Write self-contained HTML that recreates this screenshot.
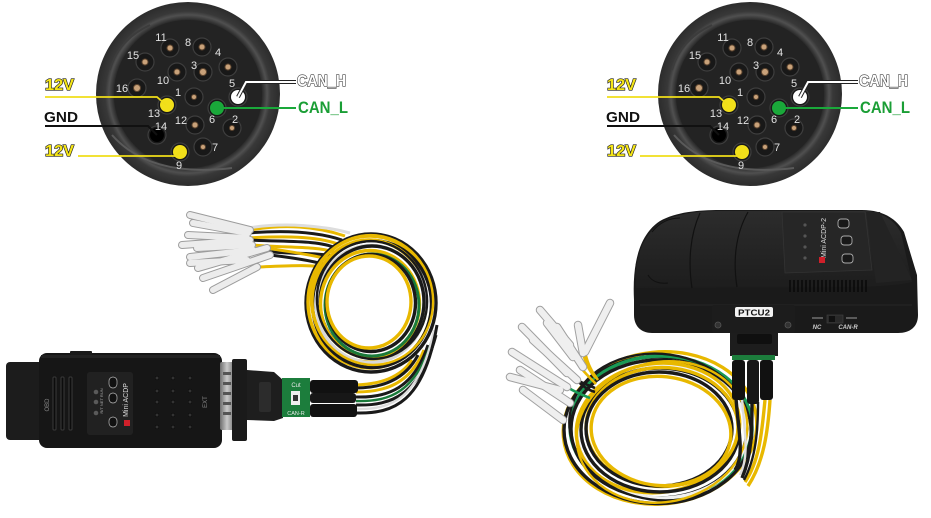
<!DOCTYPE html>
<html><head><meta charset="utf-8">
<style>
html,body{margin:0;padding:0;background:#fff;}
svg{display:block;}
text{font-family:"Liberation Sans",sans-serif;}
</style></head>
<body>
<svg width="931" height="518" viewBox="0 0 931 518" xmlns="http://www.w3.org/2000/svg">
<defs>
<radialGradient id="rim" cx="0.5" cy="0.5" r="0.5">
<stop offset="0.80" stop-color="#262626"/>
<stop offset="0.86" stop-color="#505050"/>
<stop offset="0.90" stop-color="#383838"/>
<stop offset="1" stop-color="#2c2c2c"/>
</radialGradient>
<linearGradient id="metal" x1="0" x2="1" y1="0" y2="0">
<stop offset="0" stop-color="#6d6d6d"/><stop offset="0.5" stop-color="#c9c9c9"/><stop offset="1" stop-color="#7a7a7a"/>
</linearGradient>
<linearGradient id="topface" x1="0" x2="0" y1="0" y2="1">
<stop offset="0" stop-color="#2c2c2c"/><stop offset="1" stop-color="#1d1d1d"/>
</linearGradient>
</defs>
<rect width="931" height="518" fill="#fff"/>

<!-- ============ LEFT CONNECTOR ============ -->
<g>
<circle cx="188" cy="94" r="92" fill="url(#rim)"/>
<circle cx="188" cy="94" r="74" fill="#232323"/>
<path d="M112,135 Q150,178 232,168" fill="none" stroke="#5a5a5a" stroke-width="2"/>
<path d="M110,70 Q118,40 150,25" fill="none" stroke="#3c3c3c" stroke-width="2"/>
<g fill="#181818" stroke="#3e3e3e" stroke-width="1.2">
<circle cx="170" cy="48" r="9"/><circle cx="202" cy="47" r="9"/><circle cx="228" cy="67" r="9"/>
<circle cx="145" cy="62" r="9"/><circle cx="177" cy="72" r="9"/><circle cx="203" cy="72" r="9"/>
<circle cx="137" cy="88" r="9"/><circle cx="194" cy="97" r="9"/><circle cx="195" cy="125" r="9"/>
<circle cx="232" cy="128" r="9"/><circle cx="203" cy="147" r="9"/>
<circle cx="238" cy="97" r="9"/><circle cx="167" cy="105" r="9"/><circle cx="217" cy="108" r="9"/>
<circle cx="157" cy="135" r="9"/><circle cx="180" cy="152" r="9"/>
</g>
<g fill="#c9a27a" stroke="#5e4630" stroke-width="1">
<circle cx="170" cy="48" r="3"/><circle cx="202" cy="47" r="3"/><circle cx="228" cy="67" r="3"/>
<circle cx="145" cy="62" r="3"/><circle cx="177" cy="72" r="3"/><circle cx="203" cy="72" r="3.5"/>
<circle cx="137" cy="88" r="3.5"/><circle cx="194" cy="97" r="2.5"/><circle cx="195" cy="125" r="3"/>
<circle cx="232" cy="128" r="2.5"/><circle cx="203" cy="147" r="2.5"/>
</g>
<circle cx="238" cy="97" r="7" fill="#ffffff"/>
<circle cx="167" cy="105" r="7" fill="#f2e01a"/>
<circle cx="217" cy="108" r="7" fill="#1aa83a"/>
<circle cx="157" cy="135" r="7" fill="#000"/>
<circle cx="180" cy="152" r="7" fill="#f2e01a"/>
<g fill="#e2e2e2" font-size="11" text-anchor="middle">
<text x="161" y="41">11</text><text x="188" y="46">8</text><text x="218" y="56">4</text>
<text x="133" y="59">15</text><text x="194" y="69">3</text><text x="163" y="84">10</text>
<text x="122" y="92">16</text><text x="178" y="96">1</text><text x="232" y="87">5</text>
<text x="154" y="117">13</text><text x="212" y="123">6</text><text x="181" y="124">12</text>
<text x="235" y="123">2</text><text x="161" y="130">14</text><text x="215" y="151">7</text>
<text x="179" y="169">9</text>
</g>
<polyline points="45,97 157,97 166,105" fill="none" stroke="#f0de1a" stroke-width="1.8"/>
<polyline points="45,126 148,126 157,135" fill="none" stroke="#111" stroke-width="2"/>
<polyline points="78,156 176,156 180,152" fill="none" stroke="#f0de1a" stroke-width="1.8"/>
<polyline points="238,97 246,82 296,82" fill="none" stroke="#222" stroke-width="4"/>
<polyline points="238,97 246,82 296,82" fill="none" stroke="#fff" stroke-width="2"/>
<line x1="217" y1="108" x2="296" y2="108" stroke="#1aa83a" stroke-width="2"/>
<g font-weight="bold">
<text x="45" y="90" font-size="16" fill="#f5e516" stroke="#222" stroke-width="1.3" paint-order="stroke" textLength="29" lengthAdjust="spacingAndGlyphs">12V</text>
<text x="44" y="122" font-size="15" fill="#111" textLength="34" lengthAdjust="spacingAndGlyphs">GND</text>
<text x="45" y="156" font-size="16" fill="#f5e516" stroke="#222" stroke-width="1.3" paint-order="stroke" textLength="29" lengthAdjust="spacingAndGlyphs">12V</text>
<text x="297" y="86" font-size="16" fill="#fff" stroke="#444" stroke-width="1.3" paint-order="stroke" textLength="49" lengthAdjust="spacingAndGlyphs">CAN_H</text>
<text x="298" y="113" font-size="17" fill="#1a9e35" textLength="50" lengthAdjust="spacingAndGlyphs">CAN_L</text>
</g>
</g>

<!-- ============ RIGHT CONNECTOR ============ -->
<g transform="translate(562,0)">
<circle cx="188" cy="94" r="92" fill="url(#rim)"/>
<circle cx="188" cy="94" r="74" fill="#232323"/>
<path d="M112,135 Q150,178 232,168" fill="none" stroke="#5a5a5a" stroke-width="2"/>
<path d="M110,70 Q118,40 150,25" fill="none" stroke="#3c3c3c" stroke-width="2"/>
<g fill="#181818" stroke="#3e3e3e" stroke-width="1.2">
<circle cx="170" cy="48" r="9"/><circle cx="202" cy="47" r="9"/><circle cx="228" cy="67" r="9"/>
<circle cx="145" cy="62" r="9"/><circle cx="177" cy="72" r="9"/><circle cx="203" cy="72" r="9"/>
<circle cx="137" cy="88" r="9"/><circle cx="194" cy="97" r="9"/><circle cx="195" cy="125" r="9"/>
<circle cx="232" cy="128" r="9"/><circle cx="203" cy="147" r="9"/>
<circle cx="238" cy="97" r="9"/><circle cx="167" cy="105" r="9"/><circle cx="217" cy="108" r="9"/>
<circle cx="157" cy="135" r="9"/><circle cx="180" cy="152" r="9"/>
</g>
<g fill="#c9a27a" stroke="#5e4630" stroke-width="1">
<circle cx="170" cy="48" r="3"/><circle cx="202" cy="47" r="3"/><circle cx="228" cy="67" r="3"/>
<circle cx="145" cy="62" r="3"/><circle cx="177" cy="72" r="3"/><circle cx="203" cy="72" r="3.5"/>
<circle cx="137" cy="88" r="3.5"/><circle cx="194" cy="97" r="2.5"/><circle cx="195" cy="125" r="3"/>
<circle cx="232" cy="128" r="2.5"/><circle cx="203" cy="147" r="2.5"/>
</g>
<circle cx="238" cy="97" r="7" fill="#ffffff"/>
<circle cx="167" cy="105" r="7" fill="#f2e01a"/>
<circle cx="217" cy="108" r="7" fill="#1aa83a"/>
<circle cx="157" cy="135" r="7" fill="#000"/>
<circle cx="180" cy="152" r="7" fill="#f2e01a"/>
<g fill="#e2e2e2" font-size="11" text-anchor="middle">
<text x="161" y="41">11</text><text x="188" y="46">8</text><text x="218" y="56">4</text>
<text x="133" y="59">15</text><text x="194" y="69">3</text><text x="163" y="84">10</text>
<text x="122" y="92">16</text><text x="178" y="96">1</text><text x="232" y="87">5</text>
<text x="154" y="117">13</text><text x="212" y="123">6</text><text x="181" y="124">12</text>
<text x="235" y="123">2</text><text x="161" y="130">14</text><text x="215" y="151">7</text>
<text x="179" y="169">9</text>
</g>
<polyline points="45,97 157,97 166,105" fill="none" stroke="#f0de1a" stroke-width="1.8"/>
<polyline points="45,126 148,126 157,135" fill="none" stroke="#111" stroke-width="2"/>
<polyline points="78,156 176,156 180,152" fill="none" stroke="#f0de1a" stroke-width="1.8"/>
<polyline points="238,97 246,82 296,82" fill="none" stroke="#222" stroke-width="4"/>
<polyline points="238,97 246,82 296,82" fill="none" stroke="#fff" stroke-width="2"/>
<line x1="217" y1="108" x2="296" y2="108" stroke="#1aa83a" stroke-width="2"/>
<g font-weight="bold">
<text x="45" y="90" font-size="16" fill="#f5e516" stroke="#222" stroke-width="1.3" paint-order="stroke" textLength="29" lengthAdjust="spacingAndGlyphs">12V</text>
<text x="44" y="122" font-size="15" fill="#111" textLength="34" lengthAdjust="spacingAndGlyphs">GND</text>
<text x="45" y="156" font-size="16" fill="#f5e516" stroke="#222" stroke-width="1.3" paint-order="stroke" textLength="29" lengthAdjust="spacingAndGlyphs">12V</text>
<text x="297" y="86" font-size="16" fill="#fff" stroke="#444" stroke-width="1.3" paint-order="stroke" textLength="49" lengthAdjust="spacingAndGlyphs">CAN_H</text>
<text x="298" y="113" font-size="17" fill="#1a9e35" textLength="50" lengthAdjust="spacingAndGlyphs">CAN_L</text>
</g>
</g>

<!-- ============ LEFT DEVICE: wires ============ -->
<g fill="none" stroke-width="3">
<path d="M250,230 C285,224 315,226 345,236" stroke="#e8b800"/>
<path d="M248,233 C285,230 318,232 342,240" stroke="#1a1a1a"/>
<path d="M247,238 C285,236 315,236 338,244" stroke="#e8b800"/>
<path d="M250,240 C285,242 318,240 336,248" stroke="#1a1a1a"/>
<path d="M252,245 C285,248 315,246 334,252" stroke="#e8b800"/>
<path d="M253,250 C285,255 315,252 332,256" stroke="#1a1a1a"/>
<path d="M267,248 C290,252 315,255 330,260" stroke="#e8b800"/>
<path d="M270,255 C295,258 318,262 330,266" stroke="#1a1a1a"/>
<path d="M257,267 C285,266 310,264 330,268" stroke="#e8b800"/>
<path d="M248,228 C285,222 325,226 350,233" stroke="#ddd"/>
<!-- loop (dense bundle) -->
<ellipse cx="371" cy="303" rx="65" ry="69" stroke="#1a1a1a" stroke-width="3.4"/>
<ellipse cx="370" cy="302" rx="62" ry="66" stroke="#e8b800" stroke-width="3.4"/>
<ellipse cx="372" cy="304" rx="59.5" ry="63.5" stroke="#1a1a1a" stroke-width="3.4"/>
<ellipse cx="369" cy="301" rx="57" ry="61" stroke="#e8b800" stroke-width="3.4"/>
<ellipse cx="371" cy="304" rx="54.5" ry="58.5" stroke="#d8d8d8" stroke-width="3.4"/>
<ellipse cx="372" cy="302" rx="52" ry="56" stroke="#1a1a1a" stroke-width="3.4"/>
<ellipse cx="370" cy="304" rx="49.5" ry="53.5" stroke="#e8b800" stroke-width="3.4"/>
<ellipse cx="372" cy="305" rx="47" ry="51" stroke="#1a7a3a" stroke-width="3"/>
<ellipse cx="371" cy="303" rx="44.5" ry="48.5" stroke="#1a1a1a" stroke-width="3.4"/>
<ellipse cx="369" cy="302" rx="42" ry="46" stroke="#e8b800" stroke-width="3.4"/>
<ellipse cx="372" cy="300" rx="61" ry="65" stroke="#e8b800" stroke-width="2.4" transform="rotate(-10 372 300)"/>
<ellipse cx="372" cy="300" rx="55" ry="59" stroke="#1a1a1a" stroke-width="2.4" transform="rotate(-10 372 300)"/>
<!-- wires from sheaths into loop -->
<path d="M356,385 C380,384 400,378 412,360" stroke="#e8b800"/>
<path d="M356,388 C382,388 405,380 418,355" stroke="#1a1a1a"/>
<path d="M356,392 C385,392 410,384 424,350" stroke="#e8b800"/>
<path d="M356,397 C388,398 414,388 428,345" stroke="#1a1a1a"/>
<path d="M356,401 C390,402 416,392 432,340" stroke="#1a7a3a" stroke-width="2.4"/>
<path d="M356,405 C392,406 420,395 436,335" stroke="#1a1a1a"/>
<path d="M356,409 C392,410 420,398 434,330" stroke="#ddd" stroke-width="2.4"/>
<path d="M356,413 C394,414 424,402 437,325" stroke="#1a1a1a"/>
</g>
<!-- terminals left -->
<g stroke-linecap="round">
<g stroke="#9c9c9c" stroke-width="8">
<line x1="190" y1="215" x2="250" y2="230"/><line x1="193" y1="223" x2="248" y2="233"/>
<line x1="188" y1="235" x2="247" y2="238"/><line x1="182" y1="245" x2="250" y2="240"/>
<line x1="197" y1="248" x2="252" y2="245"/><line x1="190" y1="257" x2="253" y2="250"/>
<line x1="198" y1="268" x2="267" y2="248"/><line x1="190" y1="263" x2="247" y2="260"/>
<line x1="203" y1="278" x2="270" y2="255"/><line x1="213" y1="290" x2="257" y2="267"/>
</g>
<g stroke="#ececec" stroke-width="6">
<line x1="190" y1="215" x2="250" y2="230"/><line x1="193" y1="223" x2="248" y2="233"/>
<line x1="188" y1="235" x2="247" y2="238"/><line x1="182" y1="245" x2="250" y2="240"/>
<line x1="197" y1="248" x2="252" y2="245"/><line x1="190" y1="257" x2="253" y2="250"/>
<line x1="198" y1="268" x2="267" y2="248"/><line x1="190" y1="263" x2="247" y2="260"/>
<line x1="203" y1="278" x2="270" y2="255"/><line x1="213" y1="290" x2="257" y2="267"/>
</g>
</g>

<!-- ============ LEFT DEVICE: body ============ -->
<rect x="6" y="362" width="38" height="78" rx="4" fill="#1c1c1c"/>
<rect x="39" y="353" width="183" height="95" rx="8" fill="#161616"/>
<rect x="70" y="351" width="22" height="4" rx="1" fill="#1a1a1a"/>
<rect x="41" y="355" width="179" height="3" fill="#222"/>
<g fill="#0c0c0c" stroke="#3a3a3a" stroke-width="1">
<rect x="53" y="377" width="3" height="53" rx="1"/><rect x="61" y="377" width="3" height="53" rx="1"/><rect x="69" y="377" width="3" height="53" rx="1"/>
</g>
<text x="0" y="0" font-size="6" fill="#888" transform="translate(49,405) rotate(-90)" text-anchor="middle">OBD</text>
<rect x="87" y="372" width="46" height="63" rx="3" fill="#212121"/>
<g fill="#5a5a5a"><circle cx="96" cy="392" r="2.3"/><circle cx="96" cy="402" r="2.3"/><circle cx="96" cy="413" r="2.3"/></g>
<text x="0" y="0" font-size="4" fill="#aaa" transform="translate(103,401) rotate(-90)" text-anchor="middle">R/T NET RUN</text>
<g fill="#111" stroke="#bbb" stroke-width="0.7">
<rect x="109" y="377" width="8" height="11" rx="4"/><rect x="109" y="393" width="8" height="10" rx="4"/><rect x="109" y="417" width="8" height="10" rx="4"/>
</g>
<text x="0" y="0" font-size="7" fill="#ddd" transform="translate(128,400) rotate(-90)" text-anchor="middle">Mini ACDP</text>
<rect x="124" y="420" width="6" height="6" fill="#d0202a"/>
<g fill="#333" stroke="#0a0a0a" stroke-width="0.6">
<circle cx="157" cy="378" r="1.8"/><circle cx="173" cy="378" r="1.8"/><circle cx="190" cy="378" r="1.8"/>
<circle cx="157" cy="391" r="1.8"/><circle cx="173" cy="391" r="1.8"/><circle cx="190" cy="391" r="1.8"/>
<circle cx="157" cy="402" r="1.8"/><circle cx="173" cy="402" r="1.8"/><circle cx="190" cy="402" r="1.8"/>
<circle cx="157" cy="415" r="1.8"/><circle cx="173" cy="415" r="1.8"/><circle cx="190" cy="415" r="1.8"/>
<circle cx="157" cy="427" r="1.8"/><circle cx="173" cy="427" r="1.8"/><circle cx="190" cy="427" r="1.8"/>
</g>
<text x="0" y="0" font-size="6" fill="#888" transform="translate(207,402) rotate(-90)" text-anchor="middle">EXT</text>
<rect x="220" y="362" width="14" height="68" rx="2" fill="url(#metal)"/>
<g fill="#555"><rect x="223" y="372" width="8" height="3"/><rect x="223" y="382" width="8" height="3"/><rect x="223" y="392" width="8" height="3"/><rect x="223" y="402" width="8" height="3"/><rect x="223" y="412" width="8" height="3"/></g>
<rect x="232" y="359" width="15" height="82" rx="2" fill="#1a1a1a"/>
<polygon points="247,370 274,372 283,380 283,418 274,421 247,420" fill="#1e1e1e"/>
<rect x="259" y="382" width="12" height="30" rx="2" fill="#2c2c2c"/>
<rect x="282" y="378" width="28" height="39" fill="#1c7d3c"/>
<text x="296" y="387" font-size="6" fill="#e8e8e8" text-anchor="middle">Cut</text>
<rect x="291" y="391" width="9" height="14" fill="#eee"/>
<rect x="293" y="395" width="5" height="6" fill="#333"/>
<text x="296" y="415" font-size="5.5" fill="#e8e8e8" text-anchor="middle">CAN-R</text>
<rect x="310" y="380" width="48" height="13" rx="3" fill="#111"/>
<rect x="310" y="393" width="46" height="10" rx="3" fill="#171717"/>
<rect x="310" y="404" width="47" height="13" rx="3" fill="#111"/>

<!-- ============ RIGHT DEVICE: wires ============ -->
<g fill="none" stroke-width="3.4">
<ellipse cx="660" cy="428" rx="97" ry="76" stroke="#e8b800" transform="rotate(-6 660 428)"/>
<ellipse cx="658" cy="430" rx="94" ry="73.5" stroke="#1a1a1a"/>
<ellipse cx="661" cy="427" rx="91" ry="71" stroke="#1a9a55"/>
<ellipse cx="659" cy="429" rx="88" ry="69" stroke="#1a1a1a"/>
<ellipse cx="662" cy="431" rx="85" ry="67" stroke="#f0f0f0"/>
<ellipse cx="658" cy="428" rx="82" ry="64.5" stroke="#e8b800" transform="rotate(-8 658 428)"/>
<ellipse cx="660" cy="430" rx="79" ry="62" stroke="#1a1a1a"/>
<ellipse cx="662" cy="427" rx="76" ry="59.5" stroke="#e8b800"/>
<ellipse cx="659" cy="429" rx="73" ry="57" stroke="#1a1a1a"/>
<ellipse cx="661" cy="431" rx="70" ry="54.5" stroke="#e8b800" transform="rotate(6 661 431)"/>
<ellipse cx="660" cy="427" rx="91" ry="73" stroke="#1a1a1a" stroke-width="2.4" transform="rotate(8 660 427)"/>
<ellipse cx="662" cy="432" rx="86" ry="70" stroke="#e8b800" stroke-width="2.4" transform="rotate(-12 662 432)"/>
<path d="M736,398 C738,430 745,455 735,470" stroke="#1a1a1a"/>
<path d="M742,398 C744,430 750,455 740,475" stroke="#ddd" stroke-width="2.4"/>
<path d="M752,402 C752,430 752,455 742,478" stroke="#1a1a1a"/>
<path d="M765,400 C762,430 760,460 745,482" stroke="#e8b800"/>
<path d="M770,400 C768,430 764,462 748,486" stroke="#e8b800"/>
<path d="M758,402 C758,430 756,458 744,480" stroke="#1a1a1a" stroke-width="2.4"/>
<path d="M585,352 C588,365 592,372 598,380" stroke="#e8b800" stroke-width="2.6"/>
<path d="M567,373 C575,380 585,384 595,388" stroke="#1a1a1a" stroke-width="2.6"/>
<path d="M573,357 C580,368 588,376 596,384" stroke="#e8b800" stroke-width="2.6"/>
<path d="M567,387 C575,392 582,395 590,398" stroke="#1a9a55" stroke-width="2.6"/>
<path d="M577,380 C582,386 588,390 595,392" stroke="#1a1a1a" stroke-width="2.6"/>
<path d="M583,353 C586,365 590,372 596,378" stroke="#e8b800" stroke-width="2.6"/>
</g>
<!-- terminals right -->
<g stroke-linecap="round">
<g stroke="#a0a0a0" stroke-width="8.5">
<line x1="610" y1="303" x2="585" y2="352"/><line x1="522" y1="327" x2="567" y2="373"/>
<line x1="547" y1="323" x2="573" y2="357"/><line x1="512" y1="352" x2="567" y2="387"/>
<line x1="520" y1="370" x2="570" y2="403"/><line x1="510" y1="377" x2="560" y2="390"/>
<line x1="523" y1="390" x2="563" y2="420"/><line x1="533" y1="340" x2="577" y2="380"/>
<line x1="557" y1="327" x2="583" y2="367"/><line x1="578" y1="325" x2="583" y2="353"/>
<line x1="540" y1="310" x2="570" y2="345"/>
</g>
<g stroke="#efefef" stroke-width="6.5">
<line x1="610" y1="303" x2="585" y2="352"/><line x1="522" y1="327" x2="567" y2="373"/>
<line x1="547" y1="323" x2="573" y2="357"/><line x1="512" y1="352" x2="567" y2="387"/>
<line x1="520" y1="370" x2="570" y2="403"/><line x1="510" y1="377" x2="560" y2="390"/>
<line x1="523" y1="390" x2="563" y2="420"/><line x1="533" y1="340" x2="577" y2="380"/>
<line x1="557" y1="327" x2="583" y2="367"/><line x1="578" y1="325" x2="583" y2="353"/>
<line x1="540" y1="310" x2="570" y2="345"/>
</g>
</g>

<!-- ============ RIGHT DEVICE: body ============ -->
<path d="M634,300 C632,262 640,234 660,221 C676,212 698,210 720,210 L862,210 C882,210 896,218 904,232 L917,275 L918,315 C918,327 910,333 898,333 L652,333 C640,333 634,325 634,315 Z" fill="#1a1a1a"/>
<path d="M636,288 C634,258 643,234 662,222 C678,213 700,211 720,211 L862,211 C880,211 894,219 901,233 L912,282 C880,290 800,286 636,288 Z" fill="url(#topface)"/>
<line x1="640" y1="305" x2="912" y2="305" stroke="#262626" stroke-width="1"/>
<path d="M700,213 C690,235 688,262 692,288" fill="none" stroke="#111" stroke-width="1.2"/>
<path d="M748,212 C735,235 733,262 737,287" fill="none" stroke="#111" stroke-width="1.2"/>
<path d="M652,232 C660,222 670,218 680,218" fill="none" stroke="#111" stroke-width="1"/>
<path d="M648,275 C652,282 660,284 668,283" fill="none" stroke="#111" stroke-width="1"/>
<polygon points="782,212 865,212 872,270 785,273" fill="#262626" stroke="#333" stroke-width="0.8"/>
<polygon points="866,212 880,212 912,280 876,283" fill="#232323"/>
<g fill="#555"><circle cx="805" cy="225" r="1.6"/><circle cx="805" cy="236" r="1.6"/><circle cx="805" cy="247" r="1.6"/><circle cx="805" cy="258" r="1.6"/></g>
<text x="0" y="0" font-size="7" fill="#ddd" transform="translate(826,238) rotate(-90)" text-anchor="middle">Mini ACDP-2</text>
<rect x="819" y="257" width="6" height="6" fill="#d0202a"/>
<g fill="#181818" stroke="#aaa" stroke-width="0.9">
<rect x="838" y="219" width="11" height="9" rx="3"/><rect x="841" y="236" width="11" height="9" rx="3"/><rect x="842" y="254" width="11" height="9" rx="3"/>
</g>
<g stroke="#080808" stroke-width="1.4">
<line x1="790" y1="280" x2="790" y2="292"/><line x1="794" y1="280" x2="794" y2="292"/><line x1="798" y1="280" x2="798" y2="292"/><line x1="802" y1="280" x2="802" y2="292"/><line x1="806" y1="280" x2="806" y2="292"/><line x1="810" y1="280" x2="810" y2="292"/><line x1="814" y1="280" x2="814" y2="292"/><line x1="818" y1="280" x2="818" y2="292"/><line x1="822" y1="280" x2="822" y2="292"/><line x1="826" y1="280" x2="826" y2="292"/><line x1="830" y1="280" x2="830" y2="292"/><line x1="834" y1="280" x2="834" y2="292"/><line x1="838" y1="280" x2="838" y2="292"/><line x1="842" y1="280" x2="842" y2="292"/><line x1="846" y1="280" x2="846" y2="292"/><line x1="850" y1="280" x2="850" y2="292"/><line x1="854" y1="280" x2="854" y2="292"/><line x1="858" y1="280" x2="858" y2="292"/><line x1="862" y1="280" x2="862" y2="292"/><line x1="866" y1="280" x2="866" y2="292"/>
</g>
<text x="817" y="329" font-size="6" font-style="italic" font-weight="bold" fill="#ccc" text-anchor="middle">NC</text>
<text x="848" y="329" font-size="6" font-style="italic" font-weight="bold" fill="#ccc" text-anchor="middle">CAN-R</text>
<rect x="827" y="315" width="16" height="8" fill="#2a2a2a" stroke="#444" stroke-width="0.6"/>
<rect x="829" y="316" width="6" height="6" fill="#111"/>
<g stroke="#bbb" stroke-width="0.8"><line x1="812" y1="318" x2="823" y2="318"/><line x1="846" y1="318" x2="857" y2="318"/></g>
<rect x="712" y="305" width="83" height="28" rx="2" fill="#1c1c1c"/>
<rect x="735" y="307" width="38" height="10" rx="2" fill="#f2f2f2"/>
<text x="754" y="315.5" font-size="8.5" font-weight="bold" fill="#111" text-anchor="middle" textLength="32" lengthAdjust="spacingAndGlyphs">PTCU2</text>
<circle cx="718" cy="325" r="3" fill="#333" stroke="#555" stroke-width="0.8"/>
<circle cx="788" cy="325" r="3" fill="#333" stroke="#555" stroke-width="0.8"/>
<rect x="730" y="333" width="48" height="23" fill="#1d1d1d"/>
<rect x="737" y="334" width="35" height="10" rx="2" fill="#0f0f0f"/>
<rect x="732" y="355" width="43" height="5" fill="#1c7d3c"/>
<rect x="732" y="360" width="13" height="40" rx="3" fill="#111"/>
<rect x="747" y="360" width="12" height="44" rx="3" fill="#161616"/>
<rect x="760" y="360" width="13" height="40" rx="3" fill="#111"/>
</svg>
</body></html>
